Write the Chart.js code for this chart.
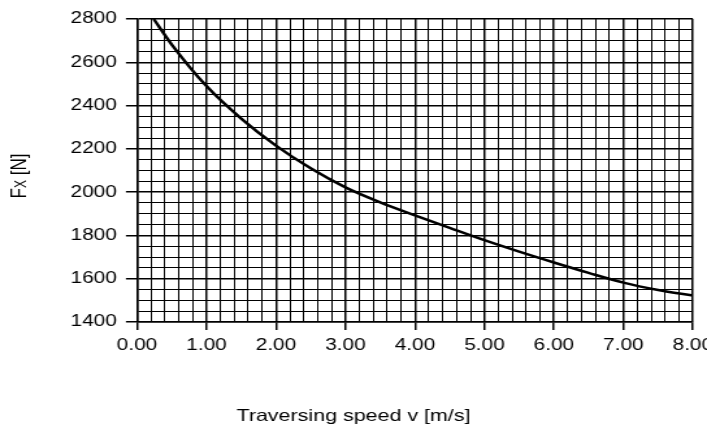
<!DOCTYPE html>
<html><head><meta charset="utf-8">
<script src="https://cdn.jsdelivr.net/npm/chart.js@4/dist/chart.umd.min.js"></script>
<style>html,body{margin:0;padding:0;background:#fff;overflow:hidden}</style>
</head><body>
<canvas id="c" width="544" height="427" style="display:block;width:707px;height:427px"></canvas>
<script>
const speeds = [0.24, 0.5, 1.0, 1.5, 2.0, 2.5, 3.0, 3.5, 4.0, 4.5, 5.0, 5.5, 6.0, 6.5, 7.0, 7.5, 8.0];
const forces = [2800, 2682, 2490, 2340, 2215, 2110, 2022, 1953, 1893, 1835, 1778, 1725, 1675, 1627, 1582, 1548, 1522];
const xTickLabels = ['0.00','1.00','2.00','3.00','4.00','5.00','6.00','7.00','8.00'];
const yTickLabels = ['1400','1600','1800','2000','2200','2400','2600','2800'];
const xTitle = 'Traversing speed v [m/s]';
const yTitleMain = 'F', yTitleSub = 'X', yTitleUnit = ' [N]';

const FONT = 'Liberation Sans';
const points = speeds.map((s, i) => ({x: s, y: forces[i]}));

const titlesPlugin = {
  id: 'titles',
  afterDraw(chart) {
    const ctx = chart.ctx;
    ctx.save();
    ctx.fillStyle = '#000';
    ctx.font = '16.5px "' + FONT + '"';
    ctx.textAlign = 'center';
    ctx.textBaseline = 'middle';
    ctx.fillText(xTitle, chart.width / 2, 416);
    ctx.translate(13.5, 176);
    ctx.rotate(-Math.PI / 2);
    ctx.textAlign = 'left';
    ctx.textBaseline = 'alphabetic';
    const big = '17px "' + FONT + '"', small = '12px "' + FONT + '"';
    ctx.font = big; const w1 = ctx.measureText(yTitleMain).width;
    ctx.font = small; const w2 = ctx.measureText(yTitleSub).width;
    ctx.font = big; const w3 = ctx.measureText(yTitleUnit).width;
    let x0 = -(w1 + w2 + w3) / 2;
    const base = 6;
    ctx.font = big; ctx.fillText(yTitleMain, x0, base); x0 += w1;
    ctx.font = small; ctx.fillText(yTitleSub, x0, base); x0 += w2;
    ctx.font = big; ctx.fillText(yTitleUnit, x0, base);
    ctx.restore();
  }
};

new Chart(document.getElementById('c'), {
  type: 'line',
  data: {
    datasets: [{
      data: points,
      borderColor: '#000',
      borderWidth: 2.5,
      pointRadius: 0,
      fill: false,
      cubicInterpolationMode: 'monotone'
    }]
  },
  options: {
    responsive: false,
    devicePixelRatio: 1,
    animation: false,
    layout: {padding: {top: 19, right: 10.9, bottom: 0, left: 0}},
    plugins: {legend: {display: false}, tooltip: {enabled: false}},
    scales: {
      x: {
        type: 'linear', min: 0, max: 8,
        ticks: {
          stepSize: 0.2, autoSkip: false, maxRotation: 0, minRotation: 0, padding: 6,
          color: '#000', font: {family: FONT, size: 16},
          callback: (v, i) => (i % 5 === 0 ? xTickLabels[i / 5] : '')
        },
        grid: {
          color: '#000',
          lineWidth: c => (c.index % 5 === 0 ? 1.5 : 1),
          tickLength: 8,
          tickWidth: 1.5,
          tickColor: c => (c.index % 5 === 0 ? '#000' : 'rgba(0,0,0,0)')
        },
        border: {color: '#000', width: 1.5},
        afterFit: s => { s.height = 105; s.paddingLeft = 0; s.paddingRight = 0; }
      },
      y: {
        type: 'linear', min: 1400, max: 2800,
        ticks: {
          stepSize: 50, autoSkip: false, padding: 7,
          color: '#000', font: {family: FONT, size: 16},
          callback: (v, i) => (i % 4 === 0 ? yTickLabels[i / 4] : '')
        },
        grid: {
          color: '#000',
          lineWidth: c => (c.index % 4 === 0 ? 1.5 : 1),
          tickLength: 8.5,
          tickWidth: 1.5,
          tickColor: c => (c.index % 4 === 0 ? '#000' : 'rgba(0,0,0,0)')
        },
        border: {color: '#000', width: 1.5},
        afterFit: s => { s.width = 105.4; s.paddingTop = 0; s.paddingBottom = 0; }
      }
    }
  },
  plugins: [titlesPlugin]
});
</script>
</body></html>
